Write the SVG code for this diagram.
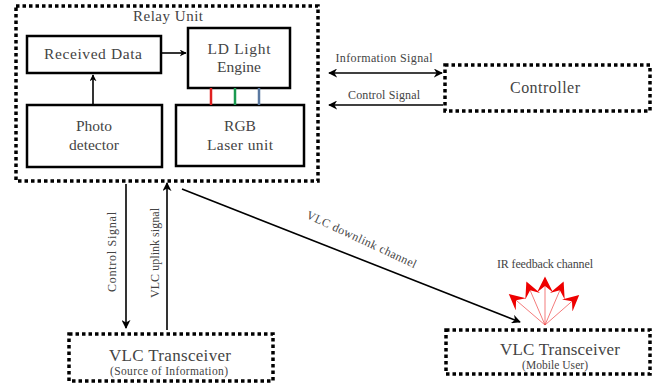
<svg xmlns="http://www.w3.org/2000/svg" width="669" height="390" viewBox="0 0 669 390">
<style>
.dot{fill:none;stroke:#000;stroke-width:3.5;stroke-dasharray:3.5 3}
.box{fill:#fff;stroke:#000;stroke-width:2.5}
.t{font-family:"Liberation Serif",serif;fill:#444;text-anchor:middle}
.b{font-size:15.5px}
.s{font-size:12px}
.ln{stroke:#000;stroke-width:1.6;fill:none}
.ir{stroke:#e44;stroke-width:0.7;fill:none}
</style>
<defs>
<marker id="ah" viewBox="0 0 10 10" refX="9" refY="5" markerWidth="7" markerHeight="7" orient="auto-start-reverse" markerUnits="userSpaceOnUse"><path d="M0,0 L10,5 L0,10 L3,5 Z" fill="#000"/></marker>
<marker id="ah2" viewBox="0 0 10 10" refX="9" refY="5" markerWidth="9" markerHeight="9" orient="auto-start-reverse" markerUnits="userSpaceOnUse"><path d="M0,0 L10,5 L0,10 L3,5 Z" fill="#000"/></marker>
<marker id="irh" viewBox="0 0 10 10" refX="9" refY="5" markerWidth="16" markerHeight="16" orient="auto" markerUnits="userSpaceOnUse"><path d="M0,0 L10,5 L0,10 L4,5 Z" fill="#e00"/></marker>
</defs>
<g id="relay">
<rect class="dot" x="16" y="6" width="302" height="175"/>
<text class="t" x="168" y="21" font-size="15" textLength="70">Relay Unit</text>
</g>
<g id="received">
<rect class="box" x="27" y="36" width="134" height="37"/>
<text class="t b" x="93" y="59" textLength="98">Received Data</text>
</g>
<g id="ld">
<rect class="box" x="188" y="28" width="102" height="60"/>
<text class="t b" x="239" y="54" textLength="63">LD Light</text>
<text class="t b" x="239" y="72">Engine</text>
</g>
<g id="photo">
<rect class="box" x="27" y="105" width="135" height="62"/>
<text class="t b" x="94" y="131">Photo</text>
<text class="t b" x="94" y="150">detector</text>
</g>
<g id="rgb">
<rect class="box" x="176" y="105" width="128" height="61"/>
<text class="t b" x="240" y="131">RGB</text>
<text class="t b" x="240" y="150" textLength="66">Laser unit</text>
</g>
<g id="controller">
<rect class="dot" x="445" y="65" width="205" height="46"/>
<text class="t" x="545" y="93" font-size="16" textLength="70">Controller</text>
</g>
<g id="source">
<rect class="dot" x="69" y="334" width="204" height="47"/>
<text class="t" x="170" y="361" font-size="17" textLength="122">VLC Transceiver</text>
<text class="t" x="169" y="375" font-size="11.5" textLength="118">(Source of Information)</text>
</g>
<g id="mobile">
<rect class="dot" x="446" y="330" width="204" height="44"/>
<text class="t" x="560" y="355" font-size="17" textLength="120">VLC Transceiver</text>
<text class="t" x="555" y="369" font-size="11.5" textLength="66">(Mobile User)</text>
</g>
<g id="connectors">
<line class="ln" x1="162" y1="53" x2="186" y2="53" marker-end="url(#ah)"/>
<line class="ln" x1="93" y1="105" x2="93" y2="75" marker-end="url(#ah)"/>
<line x1="211" y1="88" x2="211" y2="105" stroke="#e02020" stroke-width="2.5"/>
<line x1="235" y1="88" x2="235" y2="105" stroke="#1a9a50" stroke-width="2.5"/>
<line x1="259" y1="88" x2="259" y2="105" stroke="#5a78a0" stroke-width="2.5"/>
<line class="ln" x1="329" y1="73" x2="442" y2="73" marker-start="url(#ah2)" marker-end="url(#ah2)"/>
<text class="t s" x="384" y="62" textLength="97">Information Signal</text>
<line class="ln" x1="443" y1="105" x2="329" y2="105" marker-end="url(#ah2)"/>
<text class="t s" x="384" y="99" textLength="72">Control Signal</text>
<line class="ln" x1="126" y1="184" x2="126" y2="328" marker-end="url(#ah2)"/>
<text class="t s" transform="translate(116,252) rotate(-90)" textLength="80">Control Signal</text>
<line class="ln" x1="167" y1="330" x2="167" y2="183" marker-end="url(#ah2)"/>
<text class="t s" transform="translate(159,253) rotate(-90)" textLength="90">VLC uplink signal</text>
<line class="ln" x1="182" y1="189" x2="520" y2="322" marker-end="url(#ah2)"/>
<text class="t s" transform="translate(360,243) rotate(25)" textLength="120">VLC downlink channel</text>
<text class="t s" x="545" y="268" textLength="96">IR feedback channel</text>
<line class="ir" x1="545" y1="325" x2="510" y2="295" marker-end="url(#irh)"/>
<line class="ir" x1="545" y1="325" x2="527" y2="283" marker-end="url(#irh)"/>
<line class="ir" x1="545" y1="325" x2="545" y2="278" marker-end="url(#irh)"/>
<line class="ir" x1="545" y1="325" x2="563" y2="283" marker-end="url(#irh)"/>
<line class="ir" x1="545" y1="325" x2="578" y2="296" marker-end="url(#irh)"/>
</g>
</svg>
